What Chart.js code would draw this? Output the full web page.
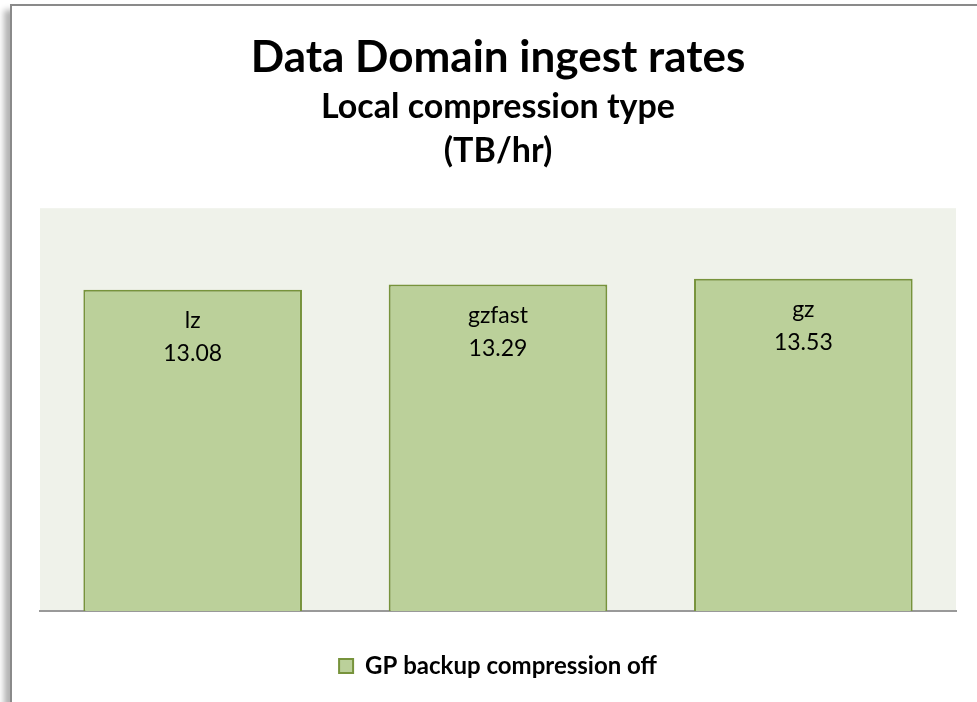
<!DOCTYPE html>
<html>
<head>
<meta charset="utf-8">
<script src="https://cdn.jsdelivr.net/npm/chart.js@4.4.1/dist/chart.umd.min.js"></script>
<style>
html,body{margin:0;padding:0;background:#fff;width:977px;height:702px;overflow:hidden;}
#frame{position:absolute;left:10px;top:4px;width:1100px;height:900px;border-top:2px solid #8a8a8a;border-left:2px solid #8a8a8a;box-shadow:-6px 6px 6px rgba(0,0,0,0.3);background:#fff;}
#wrap{position:absolute;left:0;top:0;width:977px;height:702px;}
</style>
</head>
<body>
<div id="frame"></div>
<div id="wrap"><canvas id="chart"></canvas></div>
<script>
const categories=["lz","gzfast","gz"];
const seriesName="GP backup compression off";
const values=[13.08,13.29,13.53];
const titleText="Data Domain ingest rates";
const subtitleLines=["Local compression type","(TB/hr)"];

const COLORS={fill:"#bbd09a",border:"#77933c",plot:"#eff2ea",axis:"#999999",text:"#000000"};
const FONT="Lato, 'Open Sans', sans-serif";

const plotBg={id:"plotBg",beforeDraw(chart){
  const {ctx,chartArea:a}=chart;
  ctx.save();ctx.fillStyle=COLORS.plot;ctx.fillRect(a.left,a.top,a.right-a.left,a.bottom-a.top);ctx.restore();
}};
const barLabels={id:"barLabels",afterDatasetsDraw(chart){
  const {ctx}=chart;
  const meta=chart.getDatasetMeta(0);
  ctx.save();
  ctx.fillStyle=COLORS.text;ctx.textAlign="center";ctx.textBaseline="middle";
  ctx.font=`23px ${FONT}`;
  meta.data.forEach((bar,i)=>{
    ctx.fillText(chart.data.labels[i],bar.x,bar.y+31);
    ctx.fillText(chart.data.datasets[0].data[i].toFixed(2),bar.x,bar.y+64);
  });
  ctx.restore();
}};

new Chart(document.getElementById("chart").getContext("2d"),{
  type:"bar",
  data:{labels:categories,datasets:[{
    label:seriesName,data:values,backgroundColor:COLORS.fill,borderColor:COLORS.border,borderWidth:2,
    barPercentage:0.716,categoryPercentage:1
  }]},
  options:{
    responsive:true,maintainAspectRatio:false,animation:false,
    layout:{padding:{left:40,right:21,top:0,bottom:14}},
    scales:{
      x:{grid:{display:false},ticks:{display:false},border:{display:true,color:COLORS.axis,width:2}},
      y:{display:false,min:0,max:16.4}
    },
    plugins:{
      title:{display:true,text:titleText,color:COLORS.text,font:{family:FONT,size:44,weight:"bold",lineHeight:1.2},padding:{top:31,bottom:1}},
      subtitle:{display:true,text:subtitleLines,color:COLORS.text,font:{family:FONT,size:34,weight:"bold",lineHeight:1.3},padding:{top:0,bottom:35}},
      legend:{display:true,position:"bottom",labels:{color:COLORS.text,boxWidth:14,boxHeight:14,padding:35,font:{family:FONT,size:24,weight:"bold"}}},
      tooltip:{enabled:false}
    }
  },
  plugins:[plotBg,barLabels]
});
</script>
</body>
</html>
